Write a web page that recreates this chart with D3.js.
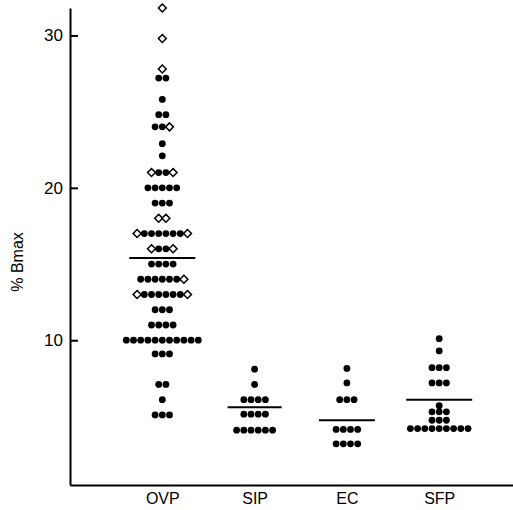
<!DOCTYPE html>
<meta charset="utf-8">
<script src="https://d3js.org/d3.v7.min.js"></script>
<head>
  <style>
    body { margin: 0; background: #fff; }
    text { font-family: "Liberation Sans", Arial, sans-serif; fill: #000; }
  </style>
</head>
<body>
<div id="my_dataviz"></div>
<script>

// groups on the x axis
var categories = ['OVP', 'SIP', 'EC', 'SFP'];

// filled dots: [value, how many dots in that row]
var ovpFilled = [[27.2, 2], [25.8, 1], [24.8, 2], [24, 2], [22.9, 1], [22.1, 1], [21, 2],
                 [20, 5], [19, 3], [17, 6], [16, 2], [15, 4], [14, 6], [13, 6], [12, 3],
                 [11, 4], [10, 11], [9.1, 3], [7.1, 2], [6.1, 1], [5.1, 3]];
// open diamonds (OVP only)
var ovpOpen = [[31.8, 1], [29.8, 1], [27.8, 1], [24, 1], [21, 2], [18, 2], [17, 2],
               [16, 2], [14, 1], [13, 2]];
var sipFilled = [[8.1, 1], [7.1, 1], [6.1, 4], [5.15, 4], [4.1, 6]];
var ecFilled = [[8.15, 1], [7.2, 1], [6.1, 3], [4.15, 4], [3.2, 4]];
var sfpFilled = [[10.1, 1], [9.3, 1], [8.2, 3], [7.2, 3], [5.7, 1], [5.3, 3], [4.75, 3], [4.2, 9]];

// group means (horizontal bars)
var means = [15.4, 5.6, 4.75, 6.1];

var yTicks = [10, 20, 30];

var filledByCat = { OVP: ovpFilled, SIP: sipFilled, EC: ecFilled, SFP: sfpFilled };
var openByCat = { OVP: ovpOpen, SIP: [], EC: [], SFP: [] };

var svgWidth = 513, svgHeight = 510;
var dotGap = 7.2;

var svg = d3.select("#my_dataviz")
    .append("svg")
        .attr("width", svgWidth)
        .attr("height", svgHeight);

var x = d3.scalePoint()
    .domain(categories)
    .range([70, 531.5])
    .padding(1);

var y = d3.scaleLinear()
    .domain([0.5, 31.8])
    .range([485, 8]);

// y axis, ticks pointing inwards
var yAxis = svg.append("g")
    .attr("transform", "translate(70,0)")
    .call(d3.axisLeft(y).tickValues(yTicks).tickSizeInner(-8).tickSizeOuter(0).tickPadding(7));
yAxis.select(".domain").attr("stroke-width", 2);
yAxis.selectAll(".tick line").attr("stroke-width", 2);
yAxis.selectAll("text")
    .attr("fill", "#000")
    .style("font-family", "Liberation Sans, Arial, sans-serif")
    .style("font-size", "17px");

// x axis with group names
var xAxis = svg.append("g")
    .attr("transform", "translate(0,485)")
    .call(d3.axisBottom(x).tickSize(0).tickPadding(8));
xAxis.select(".domain").attr("stroke-width", 2);
xAxis.selectAll("text")
    .attr("fill", "#000")
    .style("font-family", "Liberation Sans, Arial, sans-serif")
    .style("font-size", "16px");

svg.append("text")
    .text("% Bmax")
    .attr("text-anchor", "middle")
    .attr("fill", "#000")
    .style("font-size", "16px")
    .attr("transform", "translate(" + [23, 262] + ")rotate(-90)");

// lay out each row: filled dots in the middle, diamonds split to the edges
var marks = [];
categories.forEach(function(cat) {
    var rows = {};
    filledByCat[cat].forEach(function(d) {
        rows[d[0]] = rows[d[0]] || { value: d[0], filled: 0, open: 0 };
        rows[d[0]].filled += d[1];
    });
    openByCat[cat].forEach(function(d) {
        rows[d[0]] = rows[d[0]] || { value: d[0], filled: 0, open: 0 };
        rows[d[0]].open += d[1];
    });
    Object.values(rows).forEach(function(r) {
        var n = r.filled + r.open;
        var left = Math.floor(r.open / 2);
        for (var i = 0; i < n; i++) {
            var isOpen = i < left || i >= left + r.filled;
            marks.push({ cat: cat, value: r.value, offset: i - (n - 1) / 2, open: isOpen });
        }
    });
});

svg.selectAll("circle.dot")
    .data(marks.filter(function(d) { return !d.open; }))
    .enter()
    .append("circle")
        .attr("class", "dot")
        .attr("cx", function(d) { return x(d.cat) + d.offset * dotGap; })
        .attr("cy", function(d) { return y(d.value); })
        .attr("r", 3.4)
        .attr("fill", "#000");

var diamond = d3.symbol().type(d3.symbolDiamond2).size(40);
svg.selectAll("path.open")
    .data(marks.filter(function(d) { return d.open; }))
    .enter()
    .append("path")
        .attr("class", "open")
        .attr("d", diamond)
        .attr("transform", function(d) {
            return "translate(" + (x(d.cat) + d.offset * dotGap) + "," + y(d.value) + ")";
        })
        .attr("fill", "#fff")
        .attr("stroke", "#000")
        .attr("stroke-width", 1.5);

// mean bars
var meanHalf = { OVP: 33, SIP: 27, EC: 28, SFP: 33 };
svg.selectAll("line.mean")
    .data(categories)
    .enter()
    .append("line")
        .attr("class", "mean")
        .attr("x1", function(d) { return x(d) - meanHalf[d]; })
        .attr("x2", function(d) { return x(d) + meanHalf[d]; })
        .attr("y1", function(d, i) { return y(means[i]); })
        .attr("y2", function(d, i) { return y(means[i]); })
        .attr("stroke", "#000")
        .attr("stroke-width", 2);

</script>
</body>
